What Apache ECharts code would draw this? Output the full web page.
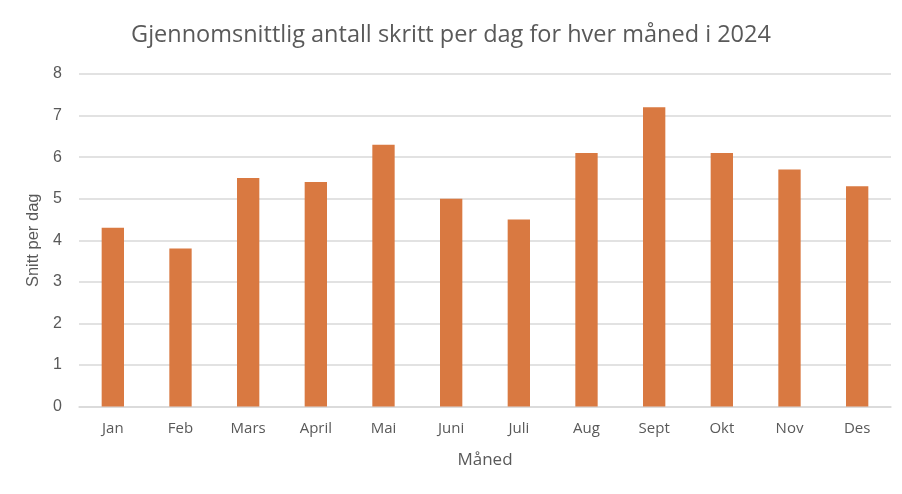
<!DOCTYPE html>
<html>
<head>
<meta charset="utf-8">
<script src="https://cdn.jsdelivr.net/npm/echarts@6/dist/echarts.min.js"></script>
<style>
html,body{margin:0;padding:0;background:#fff;}
#c{width:902px;height:494px;}
</style>
</head>
<body>
<div id="c"></div>
<script>
const categories = ["Jan","Feb","Mars","April","Mai","Juni","Juli","Aug","Sept","Okt","Nov","Des"];
const values = [4.3, 3.8, 5.5, 5.4, 6.3, 5.0, 4.5, 6.1, 7.2, 6.1, 5.7, 5.3];
const yTicks = [0,1,2,3,4,5,6,7,8];

const chart = echarts.init(document.getElementById('c'));
chart.setOption({
  animation: false,
  backgroundColor: '#ffffff',
  title: {
    text: 'Gjennomsnittlig antall skritt per dag for hver måned i 2024',
    left: 'center',
    top: 18,
    textStyle: {
      fontFamily: '"Open Sans", sans-serif',
      fontSize: 23.5,
      fontWeight: 'normal',
      color: '#595959'
    }
  },
  grid: { left: 79, right: 11, top: 74, bottom: 87.4, containLabel: false },
  xAxis: {
    type: 'category',
    data: categories,
    name: 'Måned',
    nameLocation: 'middle',
    nameGap: 45,
    nameTextStyle: { fontFamily: '"Open Sans", sans-serif', fontSize: 17, color: '#595959' },
    axisLine: { show: true, lineStyle: { color: '#D9D9D9', width: 1.5 } },
    axisTick: { show: false },
    axisLabel: { margin: 15, fontFamily: '"Open Sans", sans-serif', fontSize: 15, color: '#595959' }
  },
  yAxis: {
    type: 'value',
    min: yTicks[0],
    max: yTicks[yTicks.length-1],
    interval: 1,
    name: 'Snitt per dag',
    nameLocation: 'middle',
    nameGap: 37,
    nameTextStyle: { fontFamily: '"Liberation Sans", Arial, sans-serif', fontSize: 16.5, color: '#595959' },
    axisLine: { show: false },
    axisTick: { show: false },
    axisLabel: { margin: 17, fontFamily: '"Liberation Sans", Arial, sans-serif', fontSize: 16, color: '#595959' },
    splitLine: { lineStyle: { color: '#D9D9D9', width: 1.5 } }
  },
  series: [{
    type: 'bar',
    data: values,
    barWidth: '33%',
    itemStyle: { color: '#D97941' }
  }]
});
</script>
</body>
</html>
